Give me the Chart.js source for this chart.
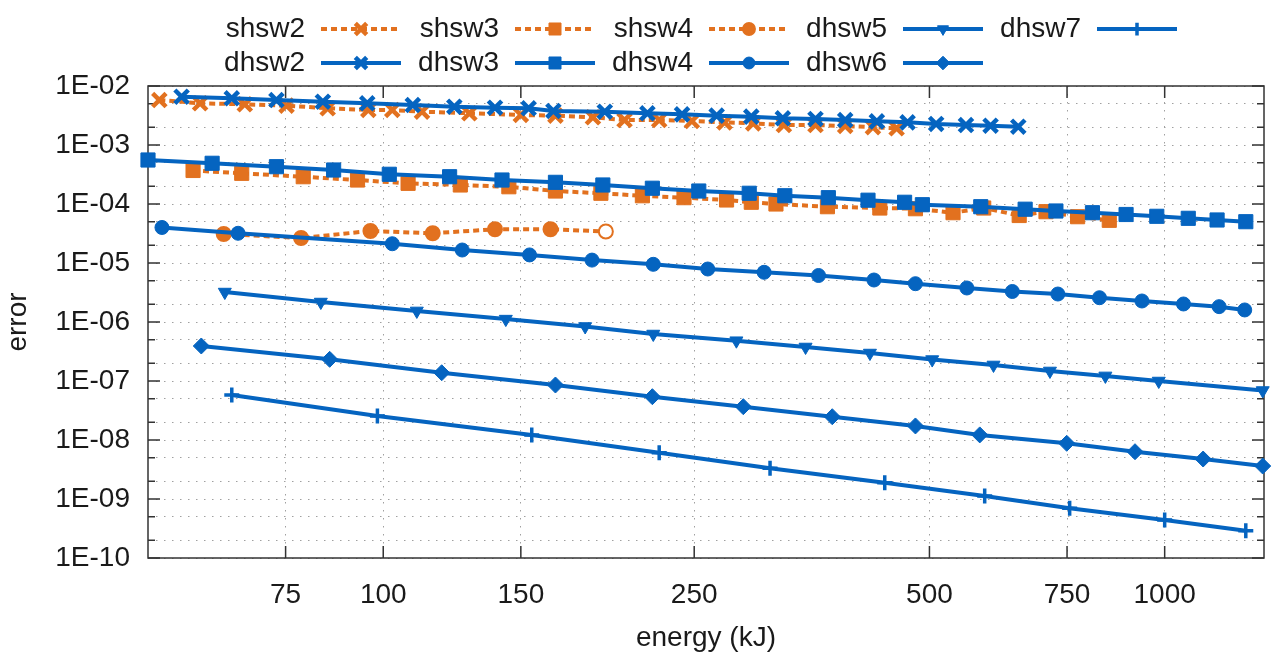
<!DOCTYPE html>
<html lang="en">
<head>
<meta charset="UTF-8">
<title>error vs energy</title>
<script src="https://cdn.jsdelivr.net/npm/chart.js"></script>
<style>
    html, body { margin: 0; padding: 0; background: #fff; }
    canvas { display: block; }
</style>
</head>
<body>
<canvas id="chart" width="1278" height="655"></canvas>
<script>
    // energy (kJ) / error pairs
    const dhsw2E = [55.2, 64.0, 73.0, 83.7, 95.4, 109.1, 123.3, 139.0, 153.5, 165.1, 192.1, 217.8, 241.2, 267.1, 295.8, 324.6, 357.4, 390.1, 428.2, 468.8, 510, 556.8, 598.7, 649.6];
    const dhsw2Err = [6.59e-3, 6.19e-3, 5.79e-3, 5.42e-3, 5.09e-3, 4.76e-3, 4.46e-3, 4.29e-3, 4.19e-3, 3.77e-3, 3.67e-3, 3.45e-3, 3.31e-3, 3.14e-3, 3.02e-3, 2.84e-3, 2.76e-3, 2.65e-3, 2.52e-3, 2.42e-3, 2.27e-3, 2.18e-3, 2.12e-3, 2.04e-3];

    const shsw2E = [51.7, 58.3, 66.5, 75.2, 84.9, 95.7, 102.7, 112.1, 128.9, 150.0, 166.1, 185.5, 203.6, 225.5, 248.3, 273.4, 297.5, 325.6, 357.4, 390.1, 423.3, 453.9];
    const shsw2Err = [5.79e-3, 5.09e-3, 4.90e-3, 4.64e-3, 4.19e-3, 3.92e-3, 3.92e-3, 3.67e-3, 3.45e-3, 3.23e-3, 3.14e-3, 2.95e-3, 2.65e-3, 2.65e-3, 2.55e-3, 2.42e-3, 2.33e-3, 2.18e-3, 2.18e-3, 2.10e-3, 2.00e-3, 1.92e-3];

    const dhsw3E = [50, 60.4, 73.0, 86.4, 101.8, 121.6, 141.9, 166.1, 191.0, 221.0, 253.4, 294.0, 326.5, 371.2, 417.2, 464.7, 489.7, 581.6, 662.9, 725.8, 808.3, 892.5, 977, 1072, 1167, 1270];
    const dhsw3Err = [5.57e-4, 4.90e-4, 4.29e-4, 3.77e-4, 3.19e-4, 2.90e-4, 2.55e-4, 2.33e-4, 2.10e-4, 1.85e-4, 1.66e-4, 1.52e-4, 1.38e-4, 1.28e-4, 1.16e-4, 1.07e-4, 9.73e-5, 9.00e-5, 8.16e-5, 7.61e-5, 7.12e-5, 6.64e-5, 6.19e-5, 5.72e-5, 5.36e-5, 5.01e-5];

    const shsw3E = [57.1, 65.9, 79.0, 92.7, 107.6, 125.5, 144.8, 166.1, 189.9, 214.6, 242.6, 275.0, 295.8, 318.1, 370.2, 432.0, 479.8, 536.0, 586.7, 651.4, 704.9, 773.7, 849.4];
    const shsw3Err = [3.70e-4, 3.31e-4, 2.90e-4, 2.55e-4, 2.24e-4, 2.10e-4, 1.96e-4, 1.66e-4, 1.52e-4, 1.38e-4, 1.28e-4, 1.17e-4, 1.07e-4, 1.00e-4, 9.00e-5, 8.55e-5, 8.32e-5, 7.12e-5, 8.55e-5, 6.38e-5, 7.41e-5, 6.09e-5, 5.29e-5];

    const shsw4E = [62.5, 78.5, 96.3, 115.7, 139.0, 163.7, 192.7];
    const shsw4Err = [3.10e-5, 2.65e-5, 3.49e-5, 3.19e-5, 3.73e-5, 3.73e-5, 3.42e-5];

    const dhsw4E = [52.1, 65.2, 102.7, 126.2, 153.9, 185.0, 221.6, 260.2, 307.2, 360.6, 424.6, 479.8, 558.3, 638.3, 730.0, 825.2, 935.2, 1057, 1174, 1266];
    const dhsw4Err = [4.00e-5, 3.19e-5, 2.12e-5, 1.66e-5, 1.37e-5, 1.12e-5, 9.50e-6, 7.91e-6, 6.96e-6, 6.14e-6, 5.15e-6, 4.46e-6, 3.77e-6, 3.29e-6, 2.98e-6, 2.58e-6, 2.27e-6, 2.02e-6, 1.82e-6, 1.60e-6];

    const dhsw5E = [62.7, 83.2, 110.4, 143.5, 181.3, 221.6, 283.1, 347.1, 419.6, 504.1, 603.9, 713.2, 839.7, 982.7, 1335];
    const dhsw5Err = [3.22e-6, 2.18e-6, 1.54e-6, 1.12e-6, 8.39e-7, 6.26e-7, 4.82e-7, 3.77e-7, 2.98e-7, 2.31e-7, 1.87e-7, 1.48e-7, 1.22e-7, 1.00e-7, 6.90e-8];

    const dhsw6E = [58.5, 85.4, 118.8, 166.1, 221.0, 288.9, 375.5, 479.8, 579.9, 749.3, 916.3, 1120, 1335];
    const dhsw6Err = [3.92e-7, 2.33e-7, 1.38e-7, 8.55e-8, 5.42e-8, 3.67e-8, 2.48e-8, 1.73e-8, 1.22e-8, 8.79e-9, 6.33e-9, 4.76e-9, 3.62e-9];

    const dhsw7E = [64.0, 98.3, 154.9, 225.5, 312.6, 438.3, 588.4, 755.8, 1000, 1270];
    const dhsw7Err = [5.79e-8, 2.55e-8, 1.22e-8, 6.09e-9, 3.31e-9, 1.89e-9, 1.12e-9, 6.96e-10, 4.41e-10, 2.90e-10];

    // axes
    const xTicks = [75, 100, 150, 250, 500, 750, 1000];
    const yDecades = [1e-10, 1e-9, 1e-8, 1e-7, 1e-6, 1e-5, 1e-4, 1e-3, 1e-2];
    const legendRows = [
        ['shsw2', 'shsw3', 'shsw4', 'dhsw5', 'dhsw7'],
        ['dhsw2', 'dhsw3', 'dhsw4', 'dhsw6']
    ];

    const BLUE = '#0564c0';
    const ORANGE = '#e2711f';
    const FONT = '"Liberation Sans", Arial, sans-serif';
    const TEXT = '#1a1a1a';

    function pts(e, err) {
        return e.map((v, i) => ({ x: v, y: err[i] }));
    }

    function series(label, e, err, color, style, radius, pbw, dashed, extra) {
        return Object.assign({
            label: label,
            data: pts(e, err),
            borderColor: color,
            backgroundColor: color,
            pointBackgroundColor: color,
            pointBorderColor: color,
            borderWidth: 4,
            borderDash: dashed ? [6, 4] : [],
            pointStyle: style,
            pointRadius: radius,
            pointBorderWidth: pbw,
            tension: 0,
            clip: false
        }, extra || {});
    }

    // every tick at 1, 2, 5 per decade; labels only on decades
    const yTicks = [];
    yDecades.forEach((d, i) => {
        yTicks.push(d);
        if (i < yDecades.length - 1) { yTicks.push(2 * d); yTicks.push(5 * d); }
    });
    const isDecade = v => Math.abs(Math.log10(v) - Math.round(Math.log10(v))) < 1e-6;

    const framePlugin = {
        id: 'frame',
        beforeDatasetsDraw(chart) {
            const { ctx, chartArea: a, scales: { x, y } } = chart;
            ctx.save();
            ctx.strokeStyle = '#333';
            ctx.lineWidth = 1.5;
            ctx.beginPath();
            xTicks.forEach(v => {
                const px = x.getPixelForValue(v);
                ctx.moveTo(px, a.bottom); ctx.lineTo(px, a.bottom - 12);
                ctx.moveTo(px, a.top); ctx.lineTo(px, a.top + 12);
            });
            yTicks.forEach(v => {
                const py = y.getPixelForValue(v);
                const len = isDecade(v) ? 12 : 7;
                ctx.moveTo(a.left, py); ctx.lineTo(a.left + len, py);
                ctx.moveTo(a.right, py); ctx.lineTo(a.right - len, py);
            });
            ctx.stroke();
            ctx.strokeRect(a.left, a.top, a.right - a.left, a.bottom - a.top);
            ctx.restore();
        }
    };

    // gnuplot style key: label then line sample
    const keyPlugin = {
        id: 'gnuKey',
        afterDraw(chart) {
            const ctx = chart.ctx;
            ctx.save();
            ctx.font = '28px ' + FONT;
            ctx.textBaseline = 'middle';
            ctx.textAlign = 'right';
            legendRows.forEach((row, r) => {
                const yy = 29 + r * 34;
                row.forEach((name, c) => {
                    const ds = chart.data.datasets.find(d => d.label === name);
                    const x0 = 224 + c * 194;
                    ctx.fillStyle = TEXT;
                    ctx.fillText(name, x0 + 81, yy);
                    ctx.strokeStyle = ds.borderColor;
                    ctx.lineWidth = ds.borderWidth;
                    ctx.setLineDash(ds.borderDash);
                    ctx.beginPath();
                    ctx.moveTo(x0 + 97, yy);
                    ctx.lineTo(x0 + 177, yy);
                    ctx.stroke();
                    ctx.setLineDash([]);
                    ctx.fillStyle = ds.borderColor;
                    ctx.lineWidth = ds.pointBorderWidth;
                    Chart.helpers.drawPoint(ctx, {
                        pointStyle: ds.pointStyle,
                        rotation: ds.pointRotation || 0,
                        radius: ds.pointRadius * 0.85,
                        borderWidth: ds.pointBorderWidth
                    }, x0 + 137, yy);
                });
            });
            ctx.restore();
        }
    };

    const shsw4Fill = shsw4E.map((v, i) => i === shsw4E.length - 1 ? '#ffffff' : ORANGE);

    const datasets = [
        series('dhsw2', dhsw2E, dhsw2Err, BLUE, 'crossRot', 9.5, 4.5, false),
        series('dhsw3', dhsw3E, dhsw3Err, BLUE, 'rect', 10, 1, false),
        series('dhsw4', dhsw4E, dhsw4Err, BLUE, 'circle', 7, 1, false),
        series('dhsw5', dhsw5E, dhsw5Err, BLUE, 'triangle', 7.5, 1, false, { pointRotation: 180 }),
        series('dhsw6', dhsw6E, dhsw6Err, BLUE, 'rectRot', 8, 1, false),
        series('dhsw7', dhsw7E, dhsw7Err, BLUE, 'cross', 7.5, 3.5, false),
        series('shsw2', shsw2E, shsw2Err, ORANGE, 'crossRot', 9.5, 4.5, true),
        series('shsw3', shsw3E, shsw3Err, ORANGE, 'rect', 10, 1, true),
        series('shsw4', shsw4E, shsw4Err, ORANGE, 'circle', 7, 2, true, { pointBackgroundColor: shsw4Fill })
    ];

    const gridStyle = { color: '#a0a0a0', lineWidth: 1, drawTicks: false };
    const dots = { display: false, dash: [1.5, 6.5] };

    new Chart(document.getElementById('chart'), {
        type: 'line',
        data: { datasets: datasets },
        options: {
            responsive: false,
            animation: false,
            devicePixelRatio: 1,
            layout: { padding: { left: 0, top: 86, right: 5, bottom: 0 } },
            plugins: {
                legend: { display: false },
                tooltip: { enabled: false }
            },
            scales: {
                x: {
                    type: 'logarithmic',
                    min: 50,
                    max: 1340,
                    bounds: 'data',
                    afterBuildTicks: s => { s.ticks = xTicks.map(v => ({ value: v })); },
                    afterFit: s => { s.height = 97; },
                    grid: gridStyle,
                    border: dots,
                    ticks: {
                        autoSkip: false,
                        maxRotation: 0,
                        padding: 20,
                        color: TEXT,
                        font: { family: FONT, size: 28 },
                        callback: v => String(v)
                    },
                    title: {
                        display: true,
                        text: 'energy (kJ)',
                        color: TEXT,
                        font: { family: FONT, size: 28 },
                        padding: { top: 0, bottom: 0 }
                    }
                },
                y: {
                    type: 'logarithmic',
                    min: 1e-10,
                    max: 1e-2,
                    bounds: 'data',
                    afterBuildTicks: s => { s.ticks = yTicks.map(v => ({ value: v })); },
                    afterFit: s => { s.width = 148; },
                    grid: gridStyle,
                    border: dots,
                    ticks: {
                        autoSkip: false,
                        padding: 18,
                        color: TEXT,
                        font: { family: FONT, size: 28 },
                        callback: v => {
                            if (!isDecade(v)) return '';
                            const n = -Math.round(Math.log10(v));
                            return '1E-' + String(n).padStart(2, '0');
                        }
                    },
                    title: {
                        display: true,
                        text: 'error',
                        color: TEXT,
                        font: { family: FONT, size: 28 },
                        padding: { top: 1, bottom: 0 }
                    }
                }
            }
        },
        plugins: [framePlugin, keyPlugin]
    });
</script>
</body>
</html>
